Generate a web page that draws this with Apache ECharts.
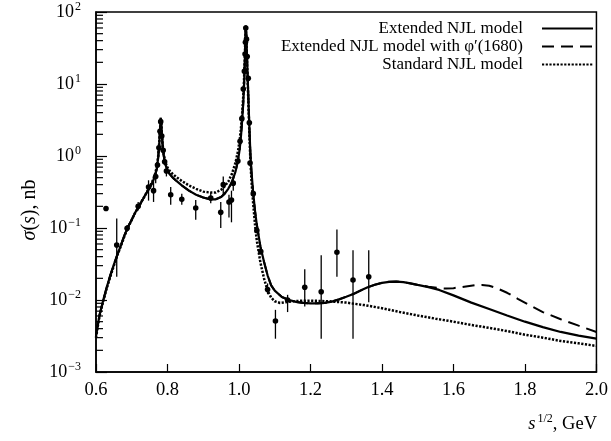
<!DOCTYPE html>
<html>
<head>
<meta charset="utf-8">
<script src="https://cdn.jsdelivr.net/npm/echarts@6/dist/echarts.min.js"></script>
<style>
  html, body { margin: 0; padding: 0; background: #fff; }
  #chart { width: 611px; height: 441px; }
</style>
</head>
<body>
<div id="chart"></div>
<script>
const SERIF = '"Liberation Serif", "DejaVu Serif", serif';

// Extended NJL model, sigma(s) in nb vs sqrt(s) in GeV
const extX = [0.600, 0.605, 0.610, 0.620, 0.630, 0.640, 0.650, 0.660, 0.670, 0.680,
  0.690, 0.700, 0.710, 0.720, 0.730, 0.740, 0.750, 0.760, 0.765, 0.770,
  0.774, 0.777, 0.779, 0.781, 0.7825, 0.784, 0.786, 0.789, 0.793, 0.798,
  0.805, 0.815, 0.825, 0.840, 0.860, 0.880, 0.900, 0.920, 0.935, 0.950,
  0.960, 0.970, 0.980, 0.990, 0.997, 1.002, 1.006, 1.009, 1.012, 1.014,
  1.016, 1.0175, 1.019, 1.0205, 1.022, 1.024, 1.026, 1.028, 1.030, 1.032,
  1.035, 1.040, 1.045, 1.050, 1.060, 1.070, 1.080, 1.090, 1.100, 1.120,
  1.140, 1.160, 1.180, 1.200, 1.220, 1.240, 1.260, 1.280, 1.300, 1.320,
  1.340, 1.360, 1.380, 1.400, 1.420, 1.440, 1.460, 1.480, 1.500, 1.530,
  1.560, 1.600, 1.650, 1.700, 1.750, 1.800, 1.850, 1.900, 1.950, 2.000];
const extY = [0.0032, 0.0045, 0.0062, 0.0098, 0.0150, 0.022, 0.031, 0.043, 0.058, 0.080,
  0.105, 0.130, 0.165, 0.200, 0.245, 0.300, 0.360, 0.450, 0.530, 0.660,
  0.950, 1.50, 2.30, 3.40, 3.20, 2.20, 1.50, 1.05, 0.80, 0.66,
  0.57, 0.50, 0.45, 0.39, 0.33, 0.29, 0.265, 0.250, 0.250, 0.270,
  0.300, 0.350, 0.430, 0.600, 0.850, 1.25, 2.0, 3.2, 5.5, 9.0,
  18, 35, 65, 50, 28, 14, 7.0, 3.6, 1.9, 1.05,
  0.60, 0.30, 0.17, 0.11, 0.055, 0.034, 0.022, 0.016, 0.0135, 0.0110,
  0.0100, 0.0094, 0.0091, 0.0090, 0.0090, 0.0091, 0.0095, 0.0102, 0.0111, 0.0121,
  0.0135, 0.0150, 0.0163, 0.0173, 0.0179, 0.0180, 0.0177, 0.0170, 0.0162, 0.0151,
  0.0138, 0.0116, 0.0092, 0.0075, 0.0061, 0.0050, 0.0042, 0.0036, 0.0032, 0.0029];

// Extended NJL model with phi'(1680): identical below 1.5 GeV, own tail above
const phiTailX = [1.500, 1.530, 1.560, 1.580, 1.600, 1.630, 1.660, 1.680, 1.700, 1.720,
  1.750, 1.780, 1.810, 1.850, 1.900, 1.950, 2.000];
const phiTailY = [0.0162, 0.0153, 0.0146, 0.0144, 0.0146, 0.0153, 0.0160, 0.0162, 0.0158, 0.0147,
  0.0126, 0.0104, 0.0086, 0.0068, 0.0054, 0.0044, 0.0036];

// Standard NJL model
const stdX = [0.600, 0.605, 0.610, 0.620, 0.630, 0.640, 0.650, 0.660, 0.670, 0.680,
  0.690, 0.700, 0.710, 0.720, 0.730, 0.740, 0.750, 0.760, 0.765, 0.770,
  0.774, 0.777, 0.779, 0.781, 0.7825, 0.784, 0.786, 0.789, 0.793, 0.798,
  0.805, 0.815, 0.825, 0.840, 0.860, 0.880, 0.900, 0.920, 0.935, 0.950,
  0.960, 0.970, 0.980, 0.990, 0.997, 1.002, 1.006, 1.009, 1.012, 1.014,
  1.016, 1.0175, 1.019, 1.0205, 1.022, 1.024, 1.026, 1.028, 1.030, 1.032,
  1.035, 1.040, 1.045, 1.050, 1.060, 1.070, 1.080, 1.090, 1.100, 1.115,
  1.130, 1.160, 1.200, 1.250, 1.300, 1.350, 1.400, 1.450, 1.500, 1.550,
  1.600, 1.650, 1.700, 1.750, 1.800, 1.850, 1.900, 1.950, 2.000];
const stdY = [0.0030, 0.0043, 0.0060, 0.0095, 0.0145, 0.021, 0.030, 0.042, 0.057, 0.078,
  0.103, 0.130, 0.165, 0.200, 0.245, 0.300, 0.370, 0.470, 0.560, 0.700,
  1.0, 1.55, 2.3, 3.2, 3.0, 2.2, 1.5, 1.1, 0.86, 0.72,
  0.63, 0.56, 0.51, 0.45, 0.39, 0.35, 0.32, 0.31, 0.31, 0.34,
  0.38, 0.44, 0.56, 0.80, 1.15, 1.65, 2.6, 4.0, 6.8, 11,
  21, 38, 60, 45, 25, 12, 6.0, 3.0, 1.5, 0.85,
  0.45, 0.21, 0.11, 0.066, 0.033, 0.020, 0.0135, 0.0108, 0.0096, 0.0091,
  0.0093, 0.0097, 0.0098, 0.0096, 0.0092, 0.0085, 0.0077, 0.0068, 0.0061, 0.0055,
  0.0050, 0.0045, 0.0041, 0.0037, 0.0033, 0.0030, 0.0027, 0.0025, 0.0023];

// Measured cross sections with error-bar limits
const ptX  = [0.628, 0.658, 0.687, 0.718, 0.747, 0.761, 0.767, 0.772, 0.776, 0.779,
  0.781, 0.784, 0.788, 0.792, 0.797, 0.809, 0.840, 0.879, 0.921, 0.949,
  0.956, 0.972, 0.979, 0.984, 0.997, 1.003, 1.008, 1.012, 1.015, 1.017,
  1.018, 1.019, 1.021, 1.023, 1.026, 1.029, 1.031, 1.040, 1.050, 1.061,
  1.080, 1.102, 1.136, 1.184, 1.230, 1.274, 1.319, 1.363];
const ptY  = [0.187, 0.058, 0.099, 0.20, 0.37, 0.33, 0.52, 0.75, 1.3, 2.2,
  3.0, 1.9, 1.2, 0.83, 0.62, 0.29, 0.25, 0.19, 0.26, 0.165,
  0.40, 0.23, 0.245, 0.42, 0.85, 1.6, 3.3, 8.5, 15, 26,
  38, 60, 42, 24, 12, 2.9, 0.8, 0.30, 0.092, 0.047,
  0.014, 0.0051, 0.010, 0.015, 0.013, 0.046, 0.019, 0.021];
const ptLo = [0.187, 0.021, 0.090, 0.175, 0.24, 0.23, 0.42, 0.68, 1.2, 2.0,
  2.7, 1.7, 1.1, 0.75, 0.52, 0.21, 0.21, 0.13, 0.22, 0.10,
  0.28, 0.14, 0.12, 0.33, 0.80, 1.5, 3.1, 8.0, 14, 25,
  36, 57, 40, 23, 11.5, 2.7, 0.75, 0.28, 0.086, 0.043,
  0.012, 0.0029, 0.0068, 0.0081, 0.0029, 0.021, 0.0029, 0.0093];
const ptHi = [0.187, 0.136, 0.110, 0.23, 0.46, 0.44, 0.62, 0.83, 1.4, 2.4,
  3.3, 2.1, 1.3, 0.90, 0.74, 0.37, 0.30, 0.245, 0.31, 0.23,
  0.52, 0.29, 0.33, 0.52, 0.90, 1.7, 3.5, 9.0, 16, 27,
  40, 63, 44, 25, 12.5, 3.1, 0.85, 0.32, 0.098, 0.051,
  0.017, 0.0073, 0.0118, 0.0267, 0.042, 0.095, 0.049, 0.049];

// Decades of the log axis and the minor-tick multipliers inside each decade
const yDecades = [-3, -2, -1, 0, 1];
const minorMult = [2, 3, 4, 5, 6, 7, 8, 9];

const pairs = (xs, ys) => xs.map((x, i) => [x, ys[i]]);
const phiX = extX.filter(x => x < 1.5).concat(phiTailX);
const phiY = extY.filter((_, i) => extX[i] < 1.5).concat(phiTailY);
const points = ptX.map((x, i) => [x, ptY[i], ptLo[i], ptHi[i]]);
const minorTicks = [];
yDecades.forEach(d => minorMult.forEach(m => minorTicks.push([0.6, m * Math.pow(10, d)])));

const NAMES = ['Extended NJL model', 'Extended NJL model with \u03c6\u2032(1680)', 'Standard NJL model'];

function supExp(v) {
  const e = Math.round(Math.log10(v));
  return '{b|10}{s|' + (e < 0 ? '\u2212' + (-e) : String(e)) + '}';
}

const legendBase = {
  orient: 'vertical', align: 'right', right: 17, padding: 0,
  itemWidth: 51, itemHeight: 14, selectedMode: false,
  itemStyle: { opacity: 0 },
  textStyle: { fontFamily: SERIF, fontSize: 17, color: '#000', padding: [0, 14, 0, 0] }
};

const chart = echarts.init(document.getElementById('chart'), null, { renderer: 'canvas' });
chart.setOption({
  animation: false,
  backgroundColor: '#fff',
  textStyle: { fontFamily: SERIF, color: '#000' },
  grid: { left: 96, right: 14, top: 12, bottom: 69, show: true, borderColor: '#000', borderWidth: 1.5, backgroundColor: 'transparent' },
  legend: [
    Object.assign({}, legendBase, { top: 20, data: [NAMES[0]] }),
    Object.assign({}, legendBase, { top: 38, data: [NAMES[1]] }),
    Object.assign({}, legendBase, { top: 56, data: [NAMES[2]] })
  ],
  xAxis: {
    type: 'value', min: 0.6, max: 2.0, interval: 0.2,
    axisLine: { lineStyle: { color: '#000', width: 1.5 } },
    axisTick: { inside: true, length: 8, lineStyle: { color: '#000', width: 1.2 } },
    splitLine: { show: false },
    axisLabel: { color: '#000', fontFamily: SERIF, fontSize: 18.5, margin: 9, formatter: v => v.toFixed(1) }
  },
  yAxis: {
    type: 'log', logBase: 10, min: 0.001, max: 100,
    axisLine: { lineStyle: { color: '#000', width: 1.5 } },
    axisTick: { inside: true, length: 11, lineStyle: { color: '#000', width: 1.2 } },
    splitLine: { show: false },
    axisLabel: {
      color: '#000', margin: 15, formatter: supExp,
      rich: {
        b: { fontFamily: SERIF, fontSize: 18, color: '#000' },
        s: { fontFamily: SERIF, fontSize: 12, color: '#000', padding: [0, 0, 10, 1] }
      }
    }
  },
  graphic: [
    {
      type: 'text', x: 30, y: 210, rotation: Math.PI / 2,
      style: {
        text: '{i|\u03c3}({i|s}), nb', x: 0, y: 0, align: 'center', verticalAlign: 'middle',
        fontFamily: SERIF, fontSize: 20, fill: '#000',
        rich: { i: { fontFamily: SERIF, fontSize: 20, fontStyle: 'italic' } }
      }
    },
    {
      type: 'text', x: 597, y: 424,
      style: {
        text: '{i|s}{s|1/2}, GeV', x: 0, y: 0, align: 'right', verticalAlign: 'middle',
        fontFamily: SERIF, fontSize: 18.5, fill: '#000',
        rich: {
          i: { fontFamily: SERIF, fontSize: 18.5, fontStyle: 'italic' },
          s: { fontFamily: SERIF, fontSize: 12, padding: [0, 0, 10, 2] }
        }
      }
    }
  ],
  series: [
    {
      name: NAMES[0], type: 'line', data: pairs(extX, extY), symbol: 'none', z: 4,
      lineStyle: { color: '#000', width: 2.2 }, itemStyle: { color: '#000' }
    },
    {
      name: NAMES[1], type: 'line', data: pairs(phiX, phiY), symbol: 'none', z: 3,
      lineStyle: { color: '#000', width: 2, type: [12, 7] }, itemStyle: { color: '#000' }
    },
    {
      name: NAMES[2], type: 'line', data: pairs(stdX, stdY), symbol: 'none', z: 3,
      lineStyle: { color: '#000', width: 2.5, type: [2.2, 1.5] }, itemStyle: { color: '#000' }
    },
    {
      name: 'points', type: 'custom', data: points, z: 5, silent: true,
      encode: { x: 0, y: 1 },
      renderItem: (params, api) => {
        const x = api.value(0);
        const c = api.coord([x, api.value(1)]);
        const lo = api.coord([x, api.value(2)]);
        const hi = api.coord([x, api.value(3)]);
        return {
          type: 'group', children: [
            { type: 'line', shape: { x1: lo[0], y1: lo[1], x2: hi[0], y2: hi[1] }, style: { stroke: '#000', lineWidth: 1.3 } },
            { type: 'circle', shape: { cx: c[0], cy: c[1], r: 2.8 }, style: { fill: '#000' } }
          ]
        };
      }
    },
    {
      name: 'minor', type: 'custom', data: minorTicks, z: 6, silent: true,
      encode: { x: 0, y: 1 },
      renderItem: (params, api) => {
        const p = api.coord([api.value(0), api.value(1)]);
        return { type: 'line', shape: { x1: p[0], y1: p[1], x2: p[0] + 7, y2: p[1] }, style: { stroke: '#000', lineWidth: 1.2 } };
      }
    }
  ]
});
</script>
</body>
</html>
